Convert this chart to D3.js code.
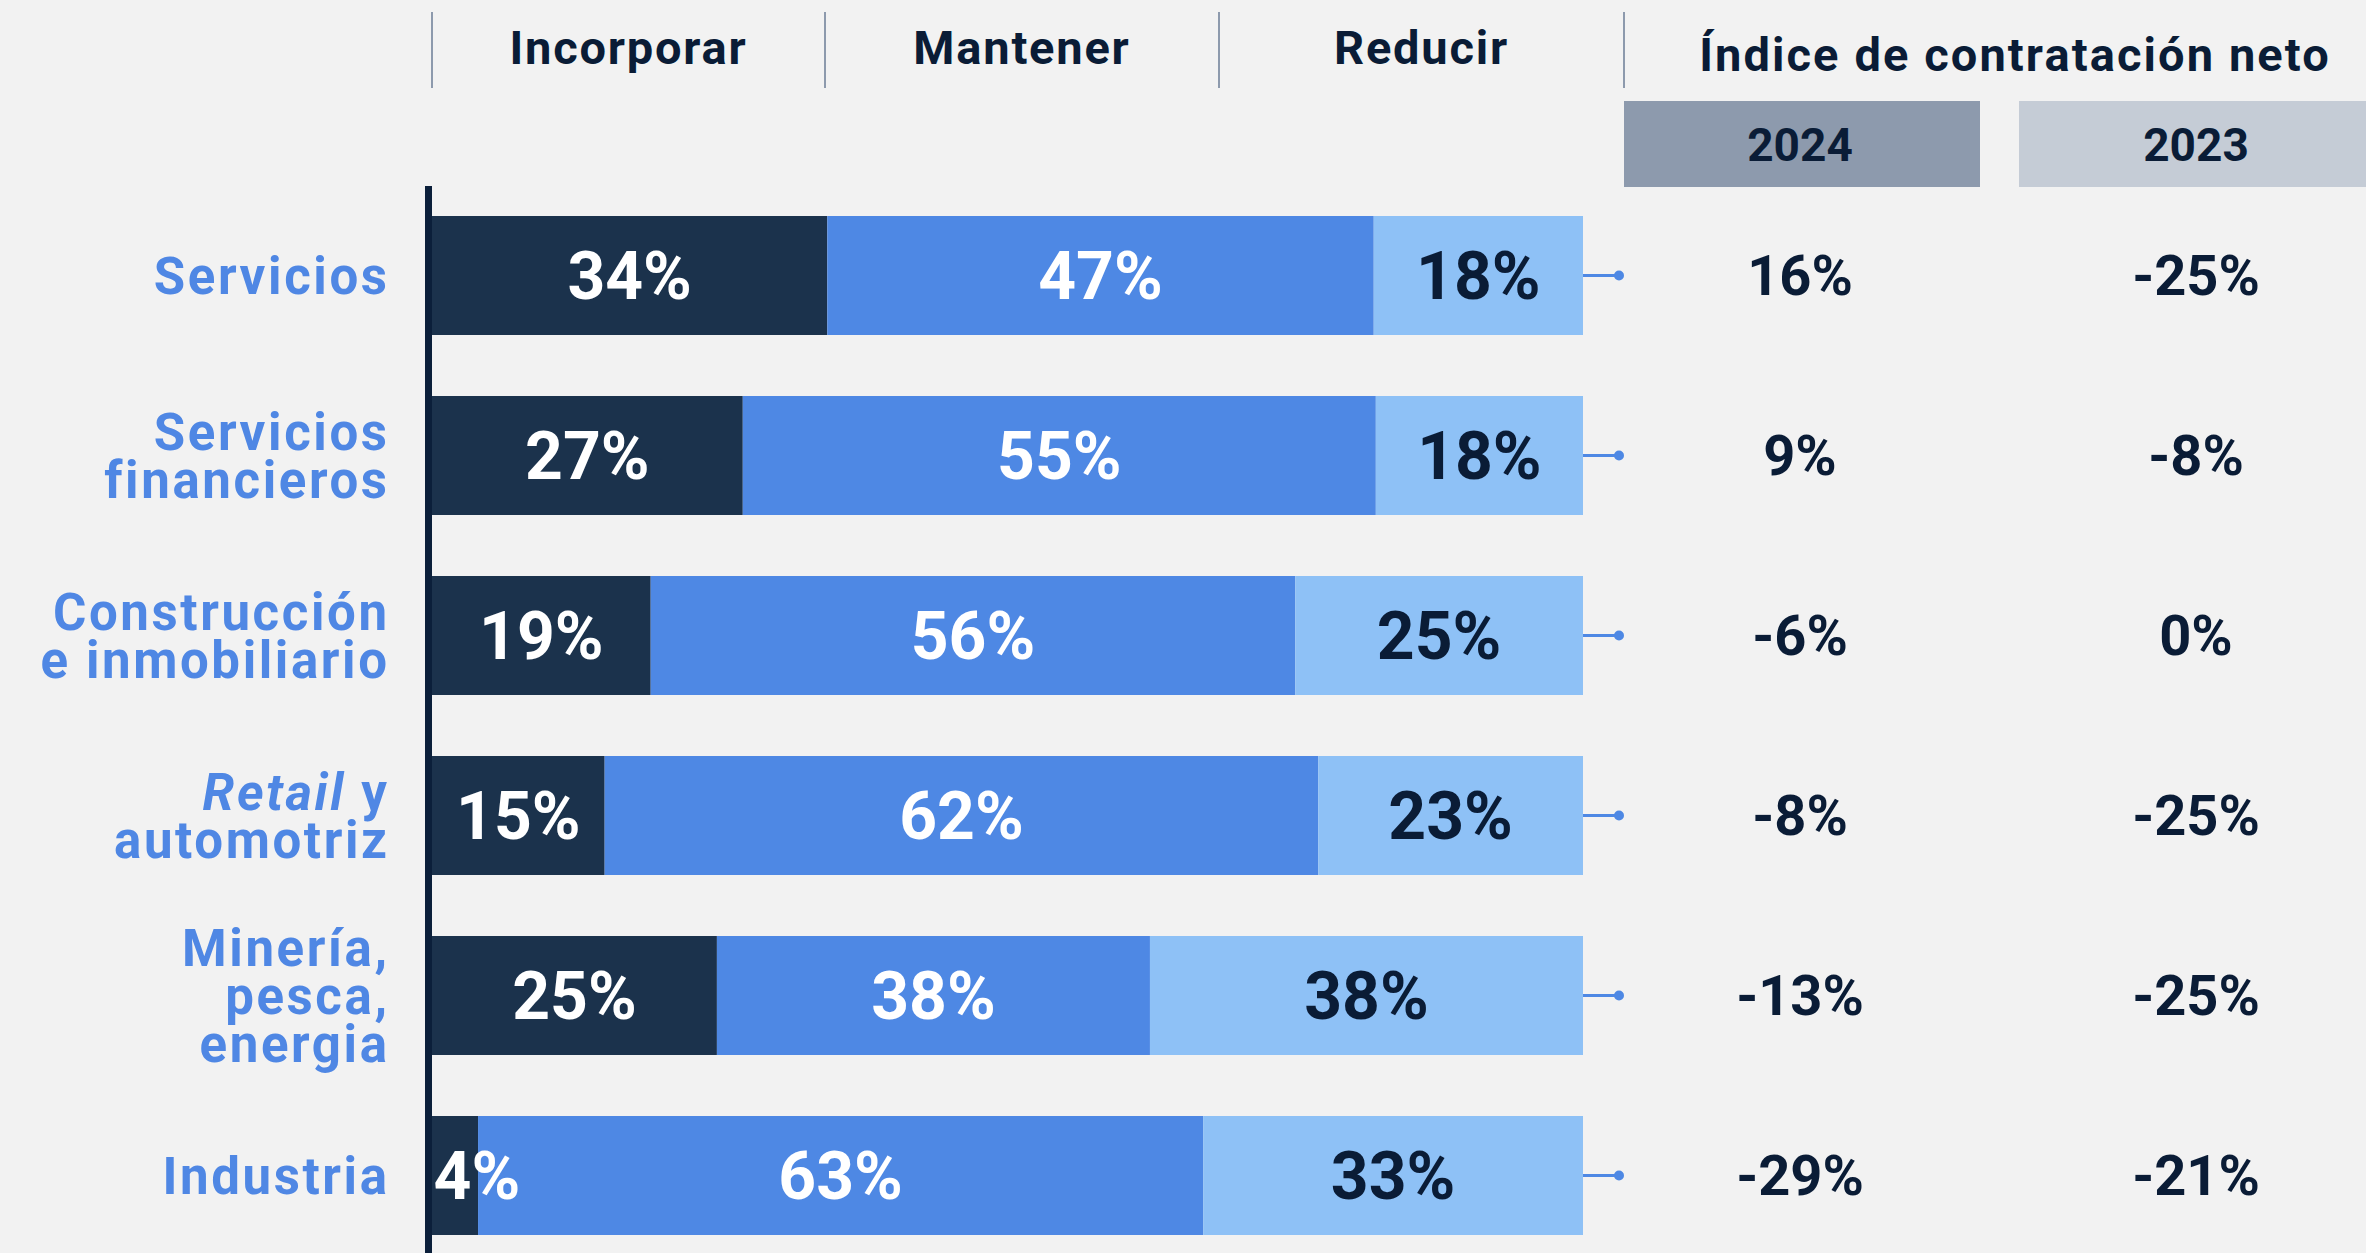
<!DOCTYPE html>
<html>
<head>
<meta charset="utf-8">
<script src="https://cdn.jsdelivr.net/npm/d3@7"></script>
<style>
  html, body { margin: 0; padding: 0; background: #f2f2f2; }
  svg { display: block; }
  text { font-family: Roboto, "Noto Sans", sans-serif; font-weight: 700; }
</style>
</head>
<body>
<svg id="chart" width="2366" height="1253"></svg>
<script>
// ---- Data ----
const categories = ["Servicios", "Servicios financieros", "Construcción e inmobiliario", "Retail y automotriz", "Minería, pesca, energia", "Industria"];
// label lines per category: each line is a list of [text, style] parts
const categoryLines = [
  [[["Servicios"]]],
  [[["Servicios"]], [["financieros"]]],
  [[["Construcción"]], [["e inmobiliario"]]],
  [[["Retail", "italic"], [" y"]], [["automotriz"]]],
  [[["Minería,"]], [["pesca,"]], [["energia"]]],
  [[["Industria"]]]
];
const seriesKeys = ["Incorporar", "Mantener", "Reducir"];
const incorporar = [34, 27, 19, 15, 25, 4];
const mantener   = [47, 55, 56, 62, 38, 63];
const reducir    = [18, 18, 25, 23, 38, 33];
const indexYears = ["2024", "2023"];
const neto2024   = [16, 9, -6, -8, -13, -29];
const neto2023   = [-25, -8, 0, -25, -25, -21];
const indexTitle = "Índice de contratación neto";

// ---- Styles ----
const colors = { Incorporar: "#1b324c", Mantener: "#4e88e4", Reducir: "#8ec1f6" };
const labelColors = { Incorporar: "#ffffff", Mantener: "#ffffff", Reducir: "#0a1c36" };
const darkText = "#0a1c36";
const catBlue = "#4f87e4";

const svg = d3.select("#chart");
svg.append("rect").attr("width", 2366).attr("height", 1253).attr("fill", "#f2f2f2");

const rows = categories.map((c, i) => ({ cat: c, Incorporar: incorporar[i], Mantener: mantener[i], Reducir: reducir[i] }));
const stacked = d3.stack().keys(seriesKeys).offset(d3.stackOffsetExpand)(rows);

const x = d3.scaleLinear().domain([0, 1]).range([432, 1583]);
const y = d3.scaleBand().domain(categories).range([185.5, 1265.5]).paddingInner(0.339).paddingOuter(0.1695);

// header separators
const sepX = [432, 825, 1219, 1624];
svg.selectAll("line.sep").data(sepX).join("line")
  .attr("x1", d => d).attr("x2", d => d).attr("y1", 12).attr("y2", 88)
  .attr("stroke", "#8d9aad").attr("stroke-width", 2);

// header labels centered between separators
svg.selectAll("text.head").data(seriesKeys).join("text")
  .attr("x", (d, i) => (sepX[i] + sepX[i + 1]) / 2)
  .attr("y", 64)
  .attr("text-anchor", "middle")
  .attr("font-size", 47)
  .attr("letter-spacing", 1.8)
  .attr("fill", darkText)
  .text(d => d);

svg.append("text")
  .attr("x", 2015).attr("y", 71)
  .attr("text-anchor", "middle")
  .attr("font-size", 47)
  .attr("letter-spacing", 2.1)
  .attr("fill", darkText)
  .text(indexTitle);

// year boxes
const colX = d3.scaleOrdinal().domain(indexYears).range([1800, 2196]);
const boxes = [{ year: "2024", x0: 1624, x1: 1980, fill: "#8d9aad" }, { year: "2023", x0: 2019, x1: 2366, fill: "#c5ccd6" }];
svg.selectAll("rect.yearbox").data(boxes).join("rect")
  .attr("x", d => d.x0).attr("width", d => d.x1 - d.x0)
  .attr("y", 101).attr("height", 86)
  .attr("fill", d => d.fill);
svg.selectAll("text.year").data(indexYears).join("text")
  .attr("x", d => colX(d)).attr("y", 161)
  .attr("text-anchor", "middle")
  .attr("font-size", 46)
  .attr("fill", darkText)
  .text(d => d);

// bars
const g = svg.append("g");
stacked.forEach(layer => {
  const key = layer.key;
  g.selectAll(null).data(layer).join("rect")
    .attr("x", d => x(d[0]))
    .attr("width", d => x(d[1]) - x(d[0]))
    .attr("y", d => y(d.data.cat))
    .attr("height", y.bandwidth())
    .attr("fill", colors[key]);
});

// bar labels
const barFont = 66;
stacked.forEach(layer => {
  const key = layer.key;
  g.selectAll(null).data(layer).join("text")
    .attr("x", d => {
      const c = (x(d[0]) + x(d[1])) / 2;
      const label = d.data[key] + "%";
      const halfW = label.length * barFont * 0.31;
      return Math.max(c, x(d[0]) + halfW + 4);
    })
    .attr("y", d => y(d.data.cat) + y.bandwidth() / 2 + barFont * 0.355)
    .attr("text-anchor", "middle")
    .attr("font-size", barFont)
    .attr("fill", labelColors[key])
    .text(d => d.data[key] + "%");
});

// connectors
const cy = c => y(c) + y.bandwidth() / 2;
svg.selectAll("line.conn").data(categories).join("line")
  .attr("x1", x(1)).attr("x2", x(1) + 36)
  .attr("y1", d => cy(d)).attr("y2", d => cy(d))
  .attr("stroke", "#4e88e4").attr("stroke-width", 3);
svg.selectAll("circle.conn").data(categories).join("circle")
  .attr("cx", x(1) + 36).attr("cy", d => cy(d)).attr("r", 5)
  .attr("fill", "#4e88e4");

// net index values
const netFont = 56;
[[neto2024, "2024"], [neto2023, "2023"]].forEach(([vals, yr]) => {
  svg.selectAll(null).data(vals).join("text")
    .attr("x", colX(yr))
    .attr("y", (d, i) => cy(categories[i]) + netFont * 0.355)
    .attr("text-anchor", "middle")
    .attr("font-size", netFont)
    .attr("fill", darkText)
    .text(d => d + "%");
});

// category labels (one text element per category, lines as tspans)
const catFont = 51, lineH = 48, catSpacing = 2.6;
categories.forEach((c, i) => {
  const lines = categoryLines[i];
  const n = lines.length;
  const t = svg.append("text")
    .attr("text-anchor", "end")
    .attr("font-size", catFont)
    .attr("letter-spacing", catSpacing)
    .attr("fill", catBlue);
  lines.forEach((parts, j) => {
    parts.forEach((p, k) => {
      const ts = t.append("tspan")
        .attr("font-style", p[1] === "italic" ? "italic" : "normal")
        .text(p[0]);
      if (k === 0) {
        ts.attr("x", 387 + catSpacing)
          .attr("y", cy(c) + (j - (n - 1) / 2) * lineH + catFont * 0.355);
      }
    });
  });
});

// vertical axis line
svg.append("line")
  .attr("x1", 428.5).attr("x2", 428.5).attr("y1", 186).attr("y2", 1253)
  .attr("stroke", "#0b1f3a").attr("stroke-width", 7);
</script>
</body>
</html>
